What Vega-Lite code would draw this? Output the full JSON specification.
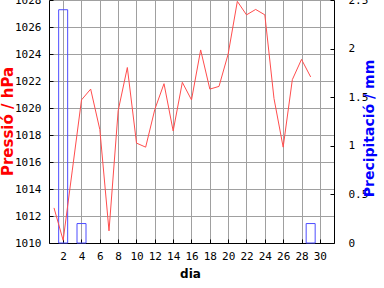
{
  "$schema": "https://vega.github.io/schema/vega-lite/v6.json",
  "width": 285,
  "height": 243,
  "autosize": {"type": "none"},
  "padding": {"left": 49, "top": 0, "right": 50, "bottom": 45},
  "background": "white",
  "config": {
    "view": {"stroke": null},
    "axis": {
      "domainColor": "black",
      "tickColor": "black",
      "labelColor": "black",
      "labelFont": "DejaVu Sans Mono",
      "labelFontSize": 11,
      "labelFlush": false,
      "labelOverlap": false,
      "labelBound": false,
      "gridColor": "#a0a0a0",
      "gridOpacity": 1,
      "titleBaseline": "middle"
    }
  },
  "datasets": {
    "pressio": [
      {"dia": 1, "hPa": 1012.6},
      {"dia": 2, "hPa": 1010.2},
      {"dia": 3, "hPa": 1015.4},
      {"dia": 4, "hPa": 1020.6},
      {"dia": 5, "hPa": 1021.4},
      {"dia": 6, "hPa": 1018.4},
      {"dia": 7, "hPa": 1010.9},
      {"dia": 8, "hPa": 1019.8},
      {"dia": 9, "hPa": 1023.0},
      {"dia": 10, "hPa": 1017.4},
      {"dia": 11, "hPa": 1017.1},
      {"dia": 12, "hPa": 1019.9},
      {"dia": 13, "hPa": 1021.8},
      {"dia": 14, "hPa": 1018.3},
      {"dia": 15, "hPa": 1021.9},
      {"dia": 16, "hPa": 1020.6},
      {"dia": 17, "hPa": 1024.3},
      {"dia": 18, "hPa": 1021.4},
      {"dia": 19, "hPa": 1021.6},
      {"dia": 20, "hPa": 1024.0},
      {"dia": 21, "hPa": 1027.9},
      {"dia": 22, "hPa": 1026.9},
      {"dia": 23, "hPa": 1027.3},
      {"dia": 24, "hPa": 1026.9},
      {"dia": 25, "hPa": 1020.7},
      {"dia": 26, "hPa": 1017.1},
      {"dia": 27, "hPa": 1022.1},
      {"dia": 28, "hPa": 1023.6},
      {"dia": 29, "hPa": 1022.3}
    ],
    "precip": [
      {"dia": 2, "mm": 2.4},
      {"dia": 4, "mm": 0.2},
      {"dia": 29, "mm": 0.2}
    ]
  },
  "layer": [
    {
      "data": {"name": "precip"},
      "mark": {"type": "bar", "filled": false, "stroke": "#4d4dff", "strokeWidth": 1, "size": 9},
      "encoding": {
        "x": {
          "field": "dia", "type": "quantitative",
          "scale": {"domain": [1, 31], "nice": false, "zero": false},
          "axis": {
            "values": [2, 4, 6, 8, 10, 12, 14, 16, 18, 20, 22, 24, 26, 28, 30],
            "format": "d",
            "title": "dia",
            "grid": true,
            "tickSize": -4,
            "labelPadding": 11,
            "labelDx": 3.5,
            "titleFont": "DejaVu Sans",
            "titleFontWeight": "bold",
            "titleFontSize": 12,
            "titleColor": "black",
            "titleX": 141,
            "titleY": 30
          }
        },
        "y": {
          "field": "mm", "type": "quantitative",
          "scale": {"domain": [0, 2.5], "nice": false},
          "axis": {
            "orient": "right",
            "values": [0, 0.5, 1, 1.5, 2, 2.5],
            "format": "~g",
            "grid": false,
            "tickSize": -4,
            "labelPadding": 18,
            "title": "Precipitació / mm",
            "titleColor": "#0000ff",
            "titleFont": "DejaVu Sans",
            "titleFontWeight": "bold",
            "titleFontSize": 14,
            "titleAngle": 270,
            "titleX": 35,
            "titleY": 128
          }
        }
      }
    },
    {
      "data": {"name": "pressio"},
      "mark": {"type": "line", "color": "#ff4d4d", "strokeWidth": 1},
      "encoding": {
        "x": {
          "field": "dia", "type": "quantitative",
          "scale": {"domain": [1, 31], "nice": false, "zero": false},
          "axis": {
            "values": [2, 4, 6, 8, 10, 12, 14, 16, 18, 20, 22, 24, 26, 28, 30],
            "format": "d",
            "title": "dia",
            "grid": true,
            "tickSize": -4,
            "labelPadding": 11,
            "labelDx": 3.5,
            "titleFont": "DejaVu Sans",
            "titleFontWeight": "bold",
            "titleFontSize": 12,
            "titleColor": "black",
            "titleX": 141,
            "titleY": 30
          }
        },
        "y": {
          "field": "hPa", "type": "quantitative",
          "scale": {"domain": [1010, 1028], "nice": false, "zero": false},
          "axis": {
            "orient": "left",
            "values": [1010, 1012, 1014, 1016, 1018, 1020, 1022, 1024, 1026, 1028],
            "format": "d",
            "grid": true,
            "tickSize": -4,
            "labelPadding": 12,
            "title": "Pressió / hPa",
            "titleColor": "#ff0000",
            "titleFont": "DejaVu Sans",
            "titleFontWeight": "bold",
            "titleFontSize": 15,
            "titleAngle": 270,
            "titleX": -42,
            "titleY": 121
          }
        }
      }
    }
  ],
  "resolve": {"scale": {"y": "independent"}}
}
